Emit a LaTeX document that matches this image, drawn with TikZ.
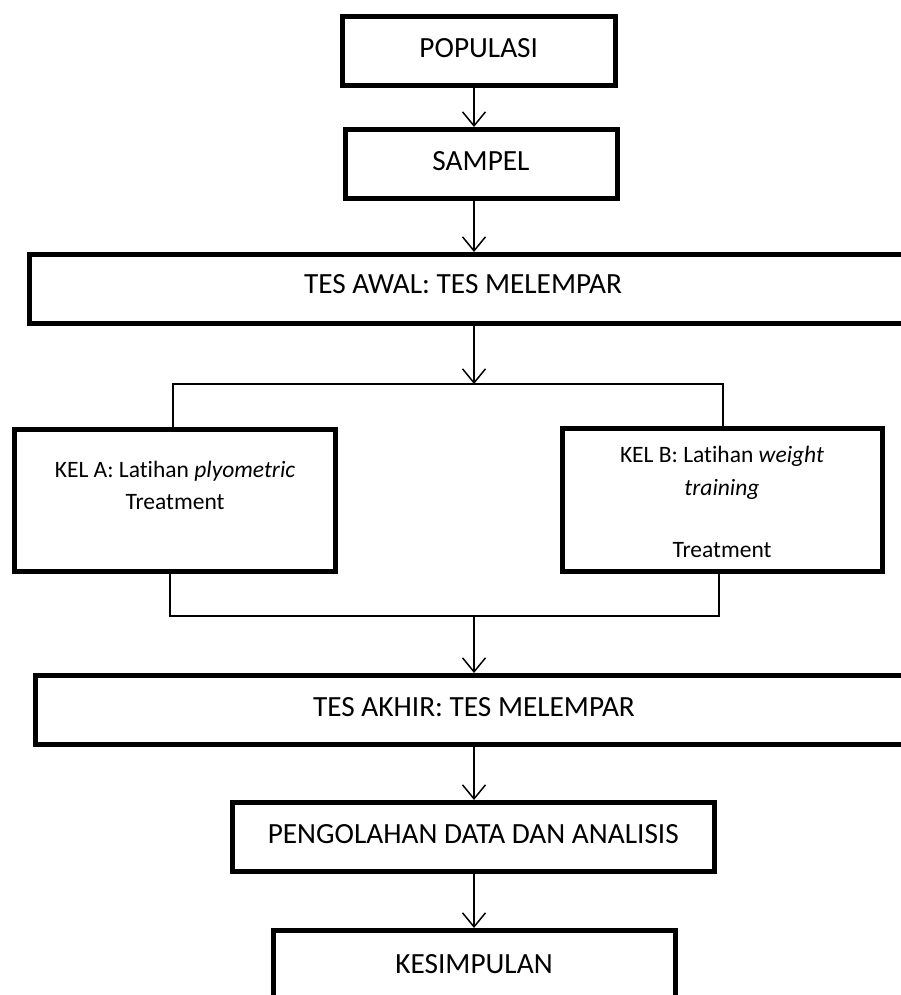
\documentclass[tikz,border=0pt]{standalone}
\usepackage{fontspec}
\setmainfont{Carlito}[Ligatures=CommonOff]
\usetikzlibrary{arrows.meta}
\begin{document}
\begin{tikzpicture}[x=1pt,y=-1pt,
  box/.style={draw=black, line width=5pt, inner sep=0pt},
  big/.style={font=\fontsize{29.3}{34}\selectfont, text height=18.8pt, text depth=6pt, inner sep=0pt},
  bigtext/.style={font=\fontsize{29.3}{34}\selectfont, anchor=base, inner sep=0pt},
  small/.style={font=\fontsize{23.5}{32}\selectfont, anchor=base, inner sep=0pt},
  conn/.style={line width=1.5pt},
  arr/.style={line width=1.5pt, -{Straight Barb[length=14pt,width=23pt,line width=1.5pt]}}]
\useasboundingbox (0,0) rectangle (901,995);
\clip (0,0) rectangle (901,995);
% boxes
\node[box, big, minimum width=272.5pt, minimum height=69.5pt] (pop) at (478.75,51.25) {POPULASI};
\node[box, big, minimum width=272pt, minimum height=69pt] (samp) at (481,164) {SAMPEL};
\node[box, minimum width=906pt, minimum height=69pt] (awal) at (482,289) {};
\node[bigtext] (awaltxt) at (463,293) {TES AWAL: TES MELEMPAR};
\node[box, minimum width=320.5pt, minimum height=142pt] (kelA) at (174.75,500.5) {};
\node[box, minimum width=320.5pt, minimum height=142.5pt] (kelB) at (722.25,499.75) {};
\node[small] (a1) at (175,477) {KEL A: Latihan \textit{plyometric}};
\node[small] (a2) at (175,509) {Treatment};
\node[small] (b1) at (722,462) {KEL B: Latihan \textit{weight}};
\node[small] (b2) at (722,495) {\textit{training}};
\node[small] (b3) at (722,557) {Treatment};
\node[box, big, minimum width=877pt, minimum height=69pt] (akhir) at (474,710) {TES AKHIR: TES MELEMPAR};
\node[box, big, minimum width=482.5pt, minimum height=69pt] (peng) at (473.25,837) {PENGOLAHAN DATA DAN ANALISIS};
\node[box, minimum width=402pt, minimum height=69pt] (kes) at (474,965) {};
\node[bigtext] (kestxt) at (474,973) {KESIMPULAN};
% connectors
\coordinate (ax) at (474,0);
\coordinate (tl) at (173,384);
\coordinate (tr) at (723,384);
\coordinate (bl) at (170,616);
\coordinate (br) at (719,616);
\draw[arr] (ax |- pop.south) -- (ax |- samp.north);
\draw[arr] (ax |- samp.south) -- (ax |- awal.north);
\draw[arr] (ax |- awal.south) -- (ax |- tl);
\draw[conn] (tl |- kelA.north) -- (tl) -- (tr) -- (tr |- kelB.north);
\draw[conn] (bl |- kelA.south) -- (bl) -- (br) -- (br |- kelB.south);
\draw[arr] (ax |- bl) -- (ax |- akhir.north);
\draw[arr] (ax |- akhir.south) -- (ax |- peng.north);
\draw[arr] (ax |- peng.south) -- (ax |- kes.north);
\end{tikzpicture}
\end{document}
